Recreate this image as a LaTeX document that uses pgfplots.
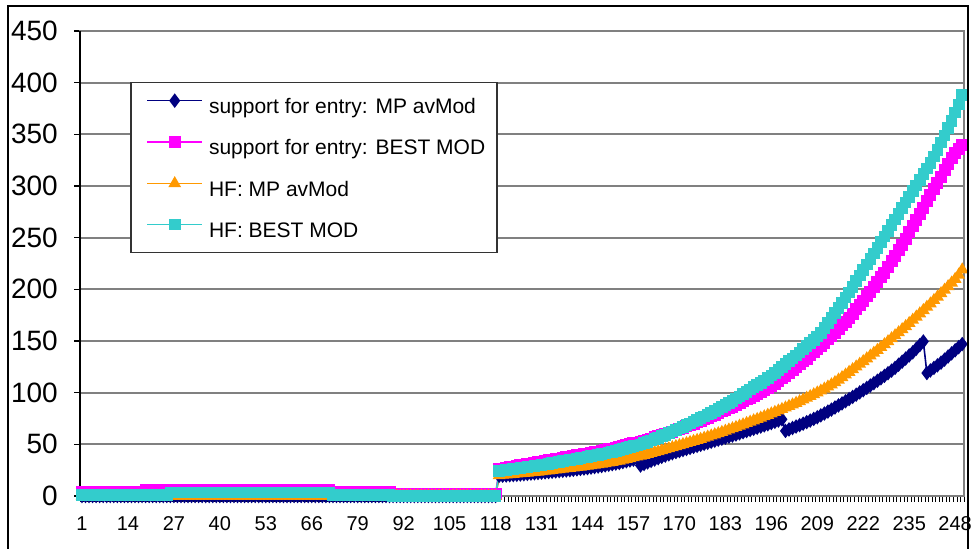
\documentclass[border=0pt]{standalone}
\usepackage{fontspec}
\setmainfont{Liberation Sans}
\usepackage{pgfplots}
\usepackage{pgfplotstable}
\pgfplotsset{compat=1.18}

\definecolor{cnavy}{HTML}{000080}
\definecolor{cpink}{HTML}{FF00FF}
\definecolor{corange}{HTML}{FF9900}
\definecolor{ccyan}{HTML}{33CCCC}

% one row per category 1..250
\pgfplotstableread[row sep=\\]{
nav pink orng cyan\\
0 4.1 0 0.8\\ 0 4.1 0 0.8\\ 0 4.1 0 0.8\\ 0 4.1 0 0.8\\ 0 4.1 0 0.8\\ 0 4.1 0 0.8\\
0 4.1 0 0.8\\ 0 4.1 0 0.8\\ 0 4.1 0 0.8\\ 0 4.1 0 0.8\\ 0 4.1 0 0.8\\ 0 4.1 0 0.8\\
0 4.1 0 0.8\\ 0 4.1 0 0.8\\ 0 4.1 0 0.8\\ 0 4.1 0 0.8\\ 0 4.1 0 0.8\\ 0 4.1 0 0.8\\
0 5.6 0 0.8\\ 0 5.6 0 0.8\\ 0 5.6 0 0.8\\ 0 5.6 0 0.8\\ 0 5.6 0 0.8\\ 0 5.6 0 0.8\\ 0 5.6 0 0.8\\
0 5.6 0 3.5\\ 0 5.6 0 3.5\\ 0 5.6 0 3.5\\ 0 5.6 0 3.5\\ 0 5.6 0 3.5\\ 0 5.6 0 3.5\\
0 5.6 0 3.5\\ 0 5.6 0 3.5\\ 0 5.6 0 3.5\\ 0 5.6 0 3.5\\ 0 5.6 0 3.5\\ 0 5.6 0 3.5\\
0 5.6 0 3.5\\ 0 5.6 0 3.5\\ 0 5.6 0 3.5\\ 0 5.6 0 3.5\\ 0 5.6 0 3.5\\ 0 5.6 0 3.5\\
0 5.6 0 3.5\\ 0 5.6 0 3.5\\ 0 5.6 0 3.5\\ 0 5.6 0 3.5\\ 0 5.6 0 3.5\\ 0 5.6 0 3.5\\
0 5.6 0 3.5\\ 0 5.6 0 3.5\\ 0 5.6 0 3.5\\ 0 5.6 0 3.5\\ 0 5.6 0 3.5\\ 0 5.6 0 3.5\\
0 5.6 0 3.5\\ 0 5.6 0 3.5\\ 0 5.6 0 3.5\\ 0 5.6 0 3.5\\ 0 5.6 0 3.5\\ 0 5.6 0 3.5\\
0 5.6 0 3.5\\ 0 5.6 0 3.5\\ 0 5.6 0 3.5\\ 0 5.6 0 3.5\\ 0 5.6 0 3.5\\ 0 5.6 0 3.5\\
0 5.6 0 3.5\\ 0 5.6 0 3.5\\ 0 5.6 0 3.5\\ 0 5.6 0 3.5\\
0 3.7 0 0.8\\ 0 3.7 0 0.8\\ 0 3.7 0 0.8\\ 0 3.7 0 0.8\\ 0 3.7 0 0.8\\ 0 3.7 0 0.8\\
0 3.7 0 0.8\\ 0 3.7 0 0.8\\ 0 3.7 0 0.8\\ 0 3.7 0 0.8\\ 0 3.7 0 0.8\\ 0 3.7 0 0.8\\
0 3.7 0 0.8\\ 0 3.7 0 0.8\\ 0 3.7 0 0.8\\ 0 3.7 0 0.8\\ 0 3.7 0 0.8\\
0 1.5 0 0\\ 0 1.5 0 0\\ 0 1.5 0 0\\ 0 1.5 0 0\\ 0 1.5 0 0\\ 0 1.5 0 0\\
0 1.5 0 0\\ 0 1.5 0 0\\ 0 1.5 0 0\\ 0 1.5 0 0\\ 0 1.5 0 0\\ 0 1.5 0 0\\
0 1.5 0 0\\ 0 1.5 0 0\\ 0 1.5 0 0\\ 0 1.5 0 0\\ 0 1.5 0 0\\ 0 1.5 0 0\\
0 1.5 0 0\\ 0 1.5 0 0\\ 0 1.5 0 0\\ 0 1.5 0 0\\ 0 1.5 0 0\\ 0 1.5 0 0\\
0 1.5 0 0\\ 0 1.5 0 0\\ 0 1.5 0 0\\ 0 1.5 0 0\\ 0 1.5 0 0\\ 0 1.5 0 0\\
19.5 26.0 20.0 24.0\\
19.7 26.6 20.3 24.5\\
19.9 27.2 20.6 25.0\\
20.1 27.8 20.9 25.5\\
20.3 28.4 21.2 26.0\\
20.5 29.0 21.5 26.5\\
20.8 29.6 21.8 27.0\\
21.1 30.2 22.1 27.5\\
21.4 30.8 22.4 28.0\\
21.7 31.4 22.7 28.5\\
22.0 32.0 23.0 29.0\\
22.3 32.6 23.4 29.5\\
22.6 33.2 23.8 30.0\\
22.9 33.8 24.2 30.6\\
23.2 34.4 24.6 31.2\\
23.5 35.0 25.0 31.8\\
23.8 35.6 25.4 32.4\\
24.1 36.2 25.8 33.0\\
24.4 36.8 26.2 33.6\\
24.7 37.4 26.6 34.2\\
25.0 38.0 27.0 34.8\\
25.4 38.6 27.4 35.4\\
25.8 39.2 27.8 36.0\\
26.2 39.8 28.2 36.6\\
26.6 40.4 28.6 37.2\\
27.0 41.0 29.0 37.8\\
27.5 41.6 29.5 38.5\\
28.0 42.3 30.0 39.2\\
28.5 43.0 30.5 39.9\\
29.0 43.7 31.0 40.6\\
29.6 44.4 31.6 41.3\\
30.2 45.1 32.2 42.0\\
30.8 45.8 32.8 42.8\\
31.4 46.5 33.4 43.6\\
32.0 47.3 34.0 44.5\\
32.8 48.1 34.8 45.4\\
33.6 49.0 35.6 46.3\\
34.4 49.9 36.4 47.2\\
35.2 50.8 37.2 48.1\\
36.0 51.7 38.0 49.0\\
29.5 52.6 38.8 50.0\\
31.0 53.6 39.6 51.0\\
32.5 54.6 40.5 52.3\\
34.0 55.6 41.4 53.6\\
35.3 56.7 42.3 55.0\\
36.6 57.8 43.2 56.4\\
37.9 58.9 44.1 57.8\\
39.1 60.0 45.0 59.2\\
40.3 61.2 46.0 60.8\\
41.4 62.4 47.0 62.3\\
42.5 63.6 48.0 63.8\\
43.5 64.8 49.0 65.3\\
44.5 66.0 50.0 66.9\\
45.5 67.3 51.0 68.5\\
46.5 68.6 52.0 70.2\\
47.5 70.0 53.0 71.9\\
48.5 71.4 54.0 73.6\\
49.5 72.8 55.0 75.3\\
50.5 74.2 56.1 77.0\\
51.5 75.7 57.2 78.7\\
52.5 77.2 58.3 80.5\\
53.5 78.7 59.4 82.3\\
54.5 80.2 60.5 84.1\\
55.5 81.8 61.7 86.0\\
56.5 83.4 62.9 88.0\\
57.5 85.0 64.1 90.0\\
58.5 86.6 65.3 92.0\\
59.5 88.3 66.5 94.2\\
60.6 90.0 67.8 96.4\\
61.7 91.7 69.1 98.6\\
62.8 93.4 70.4 100.8\\
63.9 95.2 71.7 103.0\\
65.0 97.0 73.0 105.2\\
66.1 98.8 74.3 107.4\\
67.2 100.6 75.6 109.6\\
68.3 102.4 76.9 111.8\\
69.4 104.3 78.3 114.0\\
70.6 106.2 79.7 116.5\\
71.8 108.8 81.1 119.2\\
73.0 111.4 82.5 122.0\\
74.2 114.0 83.9 124.8\\
63.0 116.6 85.4 127.6\\
64.4 119.3 86.9 130.4\\
65.8 122.0 88.4 133.2\\
67.2 124.7 89.9 136.0\\
68.6 127.4 91.5 139.0\\
70.0 130.2 93.1 142.0\\
71.5 133.0 94.8 145.0\\
73.0 136.0 96.5 148.0\\
74.6 139.0 98.2 151.2\\
76.2 142.0 100.0 154.4\\
78.0 145.0 101.8 157.6\\
79.8 148.2 103.7 162.4\\
81.7 151.5 105.7 167.2\\
83.6 154.8 107.8 172.0\\
85.6 158.2 110.0 177.0\\
87.6 161.6 112.4 182.0\\
89.6 165.0 114.8 187.0\\
91.7 168.8 117.3 192.0\\
93.8 172.6 119.9 197.0\\
95.9 176.6 122.5 202.4\\
98.0 180.6 125.1 207.8\\
100.2 184.8 127.7 213.2\\
102.4 189.0 130.3 218.6\\
104.6 193.3 133.0 224.0\\
106.9 197.6 135.7 229.4\\
109.2 202.2 138.4 234.8\\
111.5 206.8 141.1 240.2\\
113.9 211.5 143.9 245.6\\
116.3 216.2 146.7 251.0\\
118.8 222.0 149.5 256.5\\
121.3 227.0 152.4 262.0\\
124.0 232.5 155.3 267.5\\
127.0 238.0 158.2 273.0\\
130.0 243.0 161.2 278.5\\
133.0 249.0 164.2 284.0\\
136.0 255.0 167.2 289.5\\
139.0 261.0 170.3 295.0\\
142.5 267.0 173.4 300.5\\
146.0 273.0 176.5 306.0\\
149.5 279.0 179.7 311.5\\
119.0 285.0 182.9 317.0\\
121.5 291.0 186.1 322.5\\
124.0 297.0 189.4 328.5\\
126.5 303.0 192.7 335.0\\
129.0 309.0 196.0 342.0\\
132.0 315.0 199.4 349.0\\
135.0 321.0 202.8 356.0\\
138.0 327.0 206.3 363.0\\
141.0 332.0 209.8 371.0\\
144.0 336.0 214.0 379.0\\
147.0 340.0 219.0 388.0\\
}\datatab

\begin{document}
\begin{tikzpicture}
\path[use as bounding box] (0,0) rectangle (488pt,274.5pt);
\begin{axis}[
    at={(40.1pt,26.5pt)}, anchor=south west,
    scale only axis, width=441.9pt, height=232.5pt,
    xmin=0.5, xmax=250.5, ymin=0, ymax=450,
    clip=false,
    xtick={1,14,...,248},
    minor xtick={0.5,1.5,...,250.5},
    ytick={0,50,...,450},
    tick pos=left, tick align=outside,
    major tick length=3pt, minor tick length=3pt,
    major x tick style={draw=none},
    minor x tick style={draw=black, line width=0.4pt},
    ytick style={draw=black, line width=0.6pt},
    ymajorgrids=true,
    major grid style={draw=gray, line width=1pt},
    axis line style={draw=gray, line width=0.8pt},
    /pgf/number format/assume math mode=true,
    yticklabel style={font=\fontsize{14}{16}\selectfont, inner sep=0pt, xshift=-8pt},
    xticklabel style={font=\fontsize{10}{12}\selectfont, inner sep=0pt, yshift=-7pt},
    legend style={at={(0.0745,0.8639)}, anchor=north west, draw=none, fill=none,
        inner sep=0pt, row sep=9.5pt, column sep=3pt,
        font=\fontsize{10.5}{12}\selectfont,
        nodes={inner sep=0pt, text height=7.5pt, text depth=2pt}},
    legend cell align=left,
    legend image code/.code={\draw[mark repeat=2,mark phase=2]
        plot coordinates {(0pt,3.7pt) (13.75pt,3.7pt) (27.5pt,3.7pt)};},
]
\draw[draw=black!80, fill=white, line width=0.8pt]
    (rel axis cs:0.0575,0.5237) rectangle (rel axis cs:0.4716,0.8892);
\draw[black, line width=0.8pt] (rel axis cs:0,0) -- (rel axis cs:0,1);

\addplot[color=cnavy, line width=0.8pt, mark=diamond*, mark size=3pt]
    table[x expr=\coordindex+1, y=nav] {\datatab};
\addlegendentry{support for entry: MP avMod}
\addplot[color=cpink, line width=0.8pt, mark=square*, mark size=2.6pt]
    table[x expr=\coordindex+1, y=pink] {\datatab};
\addlegendentry{support for entry: BEST MOD}
\addplot[color=corange, line width=0.8pt, mark=triangle*, mark size=2.9pt]
    table[x expr=\coordindex+1, y=orng] {\datatab};
\addlegendentry{HF: MP avMod}
\addplot[color=ccyan, line width=0.8pt, mark=square*, mark size=2.5pt]
    table[x expr=\coordindex+1, y=cyan] {\datatab};
\addlegendentry{HF: BEST MOD}
\end{axis}
\draw[line width=0.9pt] (4pt,-2pt) -- (4pt,271.5pt) -- (484pt,271.5pt) -- (484pt,-2pt);
\end{tikzpicture}
\end{document}
